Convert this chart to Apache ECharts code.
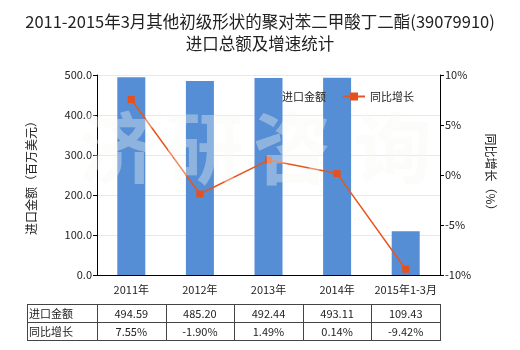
<!DOCTYPE html>
<html><head><meta charset="utf-8">
<script src="https://cdn.jsdelivr.net/npm/echarts@6/dist/echarts.min.js"></script>
<style>html,body{margin:0;padding:0;background:#fff}#c{width:520px;height:350px}</style>
</head><body><div id="c"></div>
<script>
var categories = ['2011年','2012年','2013年','2014年','2015年1-3月'];
var importValues = [494.59, 485.20, 492.44, 493.11, 109.43];
var growthValues = [7.55, -1.90, 1.49, 0.14, -9.42];
var seriesNames = ['进口金额', '同比增长'];
var titleLines = ['2011-2015年3月其他初级形状的聚对苯二甲酸丁二酯(39079910)', '进口总额及增速统计'];
var watermarkChars = ['济','研','咨','询'];

var FONT = '"Microsoft YaHei","Noto Sans CJK SC",sans-serif';
var chart = echarts.init(document.getElementById('c'), null, {renderer:'canvas'});
var GL = 97, GR = 440, GT = 75, GB = 275;
chart.setOption({
  animation:false,
  textStyle:{fontFamily:FONT},
  title:{text:titleLines.join('\n'), left:'center', top:6,
    textStyle:{fontSize:16.5, fontWeight:'normal', color:'#222', lineHeight:22, fontFamily:FONT}},
  legend:{data:[{name:seriesNames[0]},{name:seriesNames[1]}], left:250, top:86, itemWidth:22, itemHeight:10, itemGap:16,
    textStyle:{fontSize:11,color:'#222'}},
  grid:{left:GL, right:520-GR, top:GT, bottom:350-GB},
  xAxis:{type:'category', data:categories, axisTick:{show:false},
    axisLine:{lineStyle:{color:'#000'}},
    axisLabel:{fontSize:11, color:'#222', margin:9, interval:0}},
  yAxis:[{type:'value', min:0, max:500, interval:100, name:'进口金额（百万美元）', nameLocation:'middle', nameGap:60,
     nameTextStyle:{fontSize:12,color:'#222'},
     axisLine:{show:true,lineStyle:{color:'#000'}}, axisTick:{show:true,length:4,lineStyle:{color:'#000'}},
     axisLabel:{formatter:function(v){return v.toFixed(1);}, fontSize:11, color:'#222', margin:5},
     splitLine:{lineStyle:{color:'#ece9d4'}}},
    {type:'value', min:-10, max:10, interval:5, name:'同比增长（%）', nameLocation:'middle', nameGap:45, nameRotate:-90,
     nameTextStyle:{fontSize:12,color:'#222'},
     axisLine:{show:true,lineStyle:{color:'#000'}}, axisTick:{show:true,length:4,lineStyle:{color:'#000'}},
     axisLabel:{formatter:'{value}%', fontSize:11, color:'#222', margin:5},
     splitLine:{show:false}}],
  series:[
    {name:seriesNames[0], type:'bar', data:importValues, barWidth:28, itemStyle:{color:'#558ed5'}},
    {name:seriesNames[1], type:'line', yAxisIndex:1, data:growthValues, symbol:'rect', symbolSize:7,
     itemStyle:{color:'#e5501c'}, lineStyle:{color:'#e8561e', width:1.5}}
  ]
});

function buildGraphics(){
  var g = [];
  var wmX = [118, 205, 292, 393];
  for (var i=0;i<watermarkChars.length;i++){
    g.push({type:'text', x:wmX[i], y:148, z:50, silent:true,
      style:{text:watermarkChars[i], fill:'rgba(248,248,242,0.36)', font:'bold 78px '+FONT, textAlign:'center', textVerticalAlign:'middle'}});
  }
  var tL = 27, tT = 304, rowH = 18;
  var rows = [
    [seriesNames[0]].concat(importValues.map(function(v){return v.toFixed(2);})),
    [seriesNames[1]].concat(growthValues.map(function(v){return v.toFixed(2)+'%';}))
  ];
  var colW = (GR - GL) / categories.length;
  var lc = '#444';
  for (var r=0;r<=rows.length;r++){
    g.push({type:'line', shape:{x1:tL, y1:tT+r*rowH+0.5, x2:GR, y2:tT+r*rowH+0.5}, style:{stroke:lc, lineWidth:1}});
  }
  g.push({type:'line', shape:{x1:tL+0.5, y1:tT, x2:tL+0.5, y2:tT+rows.length*rowH+1}, style:{stroke:lc, lineWidth:1}});
  for (var c=0;c<=categories.length;c++){
    var xx = Math.round(GL + c*colW)+0.5;
    g.push({type:'line', shape:{x1:xx, y1:tT, x2:xx, y2:tT+rows.length*rowH+1}, style:{stroke:lc, lineWidth:1}});
  }
  for (var r2=0;r2<rows.length;r2++){
    var cy = tT + r2*rowH + rowH/2 + 1;
    g.push({type:'text', x:tL+2, y:cy, style:{text:rows[r2][0], fill:'#222', font:'11px '+FONT, textAlign:'left', textVerticalAlign:'middle'}});
    for (var c2=1;c2<rows[r2].length;c2++){
      g.push({type:'text', x:GL+(c2-0.5)*colW, y:cy, style:{text:rows[r2][c2], fill:'#222', font:'11px '+FONT, textAlign:'center', textVerticalAlign:'middle'}});
    }
  }
  chart.setOption({graphic:g});
}
buildGraphics();
</script></body></html>
